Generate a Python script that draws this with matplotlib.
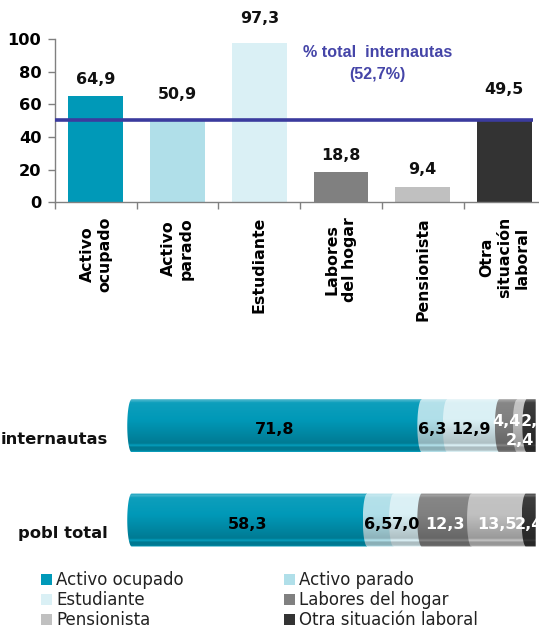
import numpy as np
import matplotlib
matplotlib.use("Agg")
import matplotlib.pyplot as plt
from matplotlib.patches import Polygon, Patch
from matplotlib.colors import to_rgb
import matplotlib.transforms as mtransforms

# ---------------- data ----------------
categories = ["Activo\nocupado", "Activo\nparado", "Estudiante",
              "Labores\ndel hogar", "Pensionista", "Otra\nsituación\nlaboral"]
legend_labels = ["Activo ocupado", "Activo parado", "Estudiante",
                 "Labores del hogar", "Pensionista", "Otra situación laboral"]
pct_internautas = [64.9, 50.9, 97.3, 18.8, 9.4, 49.5]
total_line_value = 50.4
total_text_1 = "% total  internautas"
total_text_2 = "(52,7%)"
y_ticks = [0, 20, 40, 60, 80, 100]

groups = ["internautas", "pobl total"]
share_internautas = [71.8, 6.3, 12.9, 4.4, 2.4, 2.2]
share_pobl_total = [58.3, 6.5, 7.0, 12.3, 13.5, 2.4]

# ---------------- style ----------------
colors = ["#0099b8", "#b0dfe9", "#daf0f5", "#808080", "#c0c0c0", "#333333"]
seg_text_colors = ["black", "black", "black", "white", "white", "white"]
value_label_pad_px = [9, 17, 17, 9, 10, 24]
# manual nudges (px) of the small segment labels of the "internautas" bar
internautas_label_nudge = {3: (0, 8), 4: (0, -11), 5: (6, 8)}
line_color = "#3b3b9e"

W, H, DPI = 539, 625, 100
fig = plt.figure(figsize=(W / DPI, H / DPI), dpi=DPI)


def px_axes(left, top, right, bottom):
    return fig.add_axes([left / W, 1 - bottom / H, (right - left) / W, (bottom - top) / H])


def fmt(v):
    return f"{v:.1f}".replace(".", ",")


# ================= top chart =================
step = 81.7
ax = px_axes(55, 39, 55 + 6 * step, 202.3)
x = np.arange(len(categories))
ax.bar(x, pct_internautas, width=0.67, color=colors, zorder=2)
ax.set_xlim(-0.5, len(categories) - 0.5)
ax.set_ylim(0, 100)
for s in ["top", "right"]:
    ax.spines[s].set_visible(False)
for s in ["left", "bottom"]:
    ax.spines[s].set_color("#808080")
    ax.spines[s].set_linewidth(1.0)

ax.set_yticks(y_ticks)
ax.tick_params(axis="y", length=5, width=1, color="#808080", pad=4.8, labelsize=11.7)
for t in ax.get_yticklabels():
    t.set_fontweight("bold")

ax.set_xticks(x)
ax.set_xticklabels(categories, rotation=90, ha="center", va="top",
                   multialignment="center", fontweight="bold", fontsize=11.3)
ax.set_xticks(np.arange(-0.5, len(categories), 1.0), minor=True)
ax.tick_params(axis="x", which="major", length=0, pad=10.5)
ax.tick_params(axis="x", which="minor", length=5, width=1, color="#808080")

for xi, v, pad in zip(x, pct_internautas, value_label_pad_px):
    ax.annotate(fmt(v), (xi, v), xytext=(0, pad * 0.72), textcoords="offset points",
                ha="center", va="bottom", fontsize=11.4, fontweight="bold",
                color="#111111", annotation_clip=False)

ax.plot([-0.5, 5.35], [total_line_value] * 2, color=line_color, lw=2.6,
        solid_capstyle="butt", zorder=3, clip_on=False)
ax.text(3.45, 92, total_text_1, ha="center", va="center", fontsize=11.6,
        fontweight="bold", family="Liberation Sans", color="#4545a8")
ax.text(3.45, 78, total_text_2, ha="center", va="center", fontsize=11.6,
        fontweight="bold", family="Liberation Sans", color="#4545a8")

# ================= bottom chart (stacked cylinders) =================
px_per_unit = 4.04
cap_r = 1.1
x0_px = 131.7
bx = px_axes(x0_px - cap_r * px_per_unit, 390, x0_px + 100 * px_per_unit, 560)
bx.set_xlim(-cap_r, 100)
bx.set_ylim(-0.4246, 1.38)
for s in bx.spines.values():
    s.set_visible(False)
bx.set_xticks([])
ypos = [1, 0]
bx.set_yticks(ypos)
bx.set_yticklabels(groups, fontsize=11.8, fontweight="bold", color="#111111")
bx.tick_params(axis="y", length=0, pad=14)
off = mtransforms.ScaledTranslation(0, -12 / DPI, fig.dpi_scale_trans)
for t in bx.get_yticklabels():
    t.set_transform(t.get_transform() + off)

bar_h = 53 / 94.2

tt = np.array([0.0, 0.02, 0.05, 0.07, 0.1, 0.4, 0.84, 0.88, 0.91, 0.97, 1.0])
ff = np.array([0.35, 0.12, 0.28, 0.08, 0.05, 0.0, -0.2, 0.06, -0.22, -0.2, 0.1])


def gradient_image(color, n=160):
    c = np.array(to_rgb(color))
    t = np.linspace(0, 1, n)
    f = np.interp(t, tt, ff)
    rows = []
    for fi in f:
        if fi >= 0:
            rows.append(c + (1 - c) * fi)
        else:
            rows.append(c * (1 + fi))
    img = np.array(rows)[:, None, :]
    return np.clip(img, 0, 1)


def cylinder_segment(a, b, yc, color):
    h2 = bar_h / 2
    th = np.linspace(np.pi / 2, 3 * np.pi / 2, 50)
    left = np.column_stack([a + cap_r * np.cos(th), yc + h2 * np.sin(th)])
    right = np.array([[b, yc - h2], [b, yc + h2]])
    verts = np.vstack([left, right])
    poly = Polygon(verts, closed=True, facecolor="none", edgecolor="none")
    bx.add_patch(poly)
    im = bx.imshow(gradient_image(color), extent=(a - cap_r, b, yc - h2, yc + h2),
                   aspect="auto", origin="upper", interpolation="bilinear", zorder=2)
    im.set_clip_path(poly)


for gi, (yc, vals) in enumerate(zip(ypos, [share_internautas, share_pobl_total])):
    start = 0.0
    for i, v in enumerate(vals):
        cylinder_segment(start, start + v, yc, colors[i])
        dx, dy = (0, 0)
        if gi == 0 and i in internautas_label_nudge:
            dx, dy = internautas_label_nudge[i]
        bx.annotate(fmt(v), (start + v / 2 - 0.5, yc), xytext=(dx * 0.72, (dy - 4) * 0.72),
                    textcoords="offset points", ha="center", va="center",
                    fontsize=11.5, fontweight="bold", color=seg_text_colors[i],
                    zorder=5, annotation_clip=False)
        start += v
bx.set_xlim(-cap_r, 100)
bx.set_ylim(-0.4246, 1.38)

# ================= legend =================
order = [0, 2, 4, 1, 3, 5]
handles = [Patch(facecolor=colors[i], edgecolor="none") for i in order]
labels = [legend_labels[i] for i in order]
fig.legend(handles, labels, ncol=2, loc="upper left",
           bbox_to_anchor=(41 / W, 1 - 571 / H), frameon=False, fontsize=12,
           handlelength=0.66, handleheight=0.66, handletextpad=0.27,
           columnspacing=5.97, labelspacing=0.12, borderpad=0, borderaxespad=0,
           labelcolor="#222222")

fig.savefig("out.png", dpi=DPI)
